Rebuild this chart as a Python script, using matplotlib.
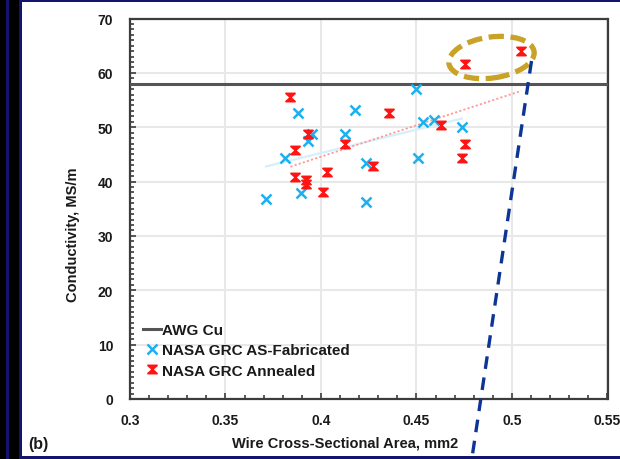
import numpy as np
import matplotlib
matplotlib.use("Agg")
import matplotlib.pyplot as plt
from matplotlib.path import Path
from matplotlib.patches import Ellipse, Rectangle
from matplotlib.lines import Line2D
from matplotlib.transforms import IdentityTransform
from matplotlib.ticker import MultipleLocator

plt.rcParams['font.family'] = ['Liberation Sans', 'DejaVu Sans']
plt.rcParams['font.weight'] = 'bold'

# ---------------- data ----------------
fab_area = [0.4497, 0.3879, 0.4180, 0.4532, 0.4591, 0.4737, 0.3955, 0.3932,
            0.4124, 0.3813, 0.4238, 0.4509, 0.3713, 0.3897, 0.4235]
fab_cond = [57.1, 52.6, 53.2, 51.0, 51.3, 50.1, 48.7, 47.5,
            48.7, 44.3, 43.4, 44.4, 36.8, 37.9, 36.2]

ann_area = [0.3840, 0.4355, 0.3932, 0.4626, 0.4754, 0.4737, 0.3866, 0.4124,
            0.4273, 0.4034, 0.3866, 0.3923, 0.3923, 0.4011, 0.4754, 0.5048]
ann_cond = [55.6, 52.7, 48.7, 50.4, 46.9, 44.4, 45.8, 46.9,
            42.9, 41.7, 40.75, 40.3, 39.5, 38.1, 61.6, 64.0]

awg_cu = 58.0

x_ticks = [0.3, 0.35, 0.4, 0.45, 0.5, 0.55]
x_tick_labels = ['0.3', '0.35', '0.4', '0.45', '0.5', '0.55']
y_ticks = [0, 10, 20, 30, 40, 50, 60, 70]

legend_labels = ['AWG Cu', 'NASA GRC AS-Fabricated', 'NASA GRC Annealed']

# ---------------- figure ----------------
W, H = 620, 460
fig = plt.figure(figsize=(W / 100, H / 100), dpi=100, facecolor='black')

def px_rect(x0, y0_top, x1, y1_top, color):
    r = Rectangle((x0, H - y1_top), x1 - x0, y1_top - y0_top,
                  transform=IdentityTransform(), color=color, zorder=-10, lw=0)
    fig.patches.append(r)

navy = '#14146e'
px_rect(6, 0, 8.5, 460, navy)
px_rect(19, 0, 620, 459.5, navy)
px_rect(22, 3, 620, 456.5, 'white')

ax = fig.add_axes([130 / W, (H - 400) / H, 477.5 / W, 380.5 / H])
ax.set_facecolor('none')

ax.set_xlim(0.3, 0.55)
ax.set_ylim(0, 70)
ax.set_xticks(x_ticks)
ax.set_xticklabels(x_tick_labels)
ax.set_yticks(y_ticks)
ax.xaxis.set_minor_locator(MultipleLocator(0.01))
ax.yaxis.set_minor_locator(MultipleLocator(1))

ax.grid(True, which='major', color='#e8e8e8', lw=1.5, zorder=0)
ax.set_axisbelow(True)

for s in ax.spines.values():
    s.set_color('#3c3c3c')
    s.set_linewidth(1.6)

ax.tick_params(axis='both', which='both', direction='in', colors='#3c3c3c',
               top=False, right=False)
ax.tick_params(axis='both', which='major', length=4, width=1.2,
               labelsize=10, labelcolor='#1a1a1a')
ax.tick_params(axis='both', which='minor', length=3, width=1.2)
ax.tick_params(axis='x', which='major', pad=10)
ax.tick_params(axis='y', which='major', pad=12)
for lab in ax.get_xticklabels() + ax.get_yticklabels():
    lab.set_fontweight('bold')

# trend lines (least squares, like Excel trendlines)
fa = np.array(fab_area); fc = np.array(fab_cond)
aa = np.array(ann_area); ac = np.array(ann_cond)
pf = np.polyfit(fa, fc, 1)
pa = np.polyfit(aa, ac, 1)
xf = np.array([fa.min(), fa.max()])
xa = np.array([aa.min(), aa.max()])
ax.plot(xf, np.polyval(pf, xf), color='#d3f0fc', lw=1.6, zorder=2)
ax.plot(xa, np.polyval(pa, xa), color='#ff9a9a', lw=1.3,
        linestyle=(0, (1.2, 1.2)), zorder=2)

# AWG Cu line
ax.axhline(awg_cu, color='#555555', lw=2.2, zorder=3)

# markers
hourglass = Path([(-1, 0.9), (1, 0.9), (0, 0), (1, -0.9), (-1, -0.9), (0, 0), (-1, 0.9)],
                 [Path.MOVETO, Path.LINETO, Path.LINETO, Path.LINETO,
                  Path.LINETO, Path.LINETO, Path.CLOSEPOLY])
blue = '#1cb0ef'
red = '#ff1414'
ax.plot(fab_area, fab_cond, linestyle='none', marker='x', color=blue,
        markersize=6.5, mew=1.8, zorder=4)
ax.plot(ann_area, ann_cond, linestyle='none', marker=hourglass, color=red,
        markersize=6.5, mew=1.3, markeredgecolor=red, zorder=5)

# labels
ax.set_xlabel('Wire Cross-Sectional Area, mm2', fontsize=10.5, fontweight='bold',
              color='#1a1a1a')
ax.xaxis.set_label_coords((345 - 130) / 477.5, (400 - 444) / 380.5)
ax.xaxis.label.set_va('center')
ax.set_ylabel('Conductivity, MS/m', fontsize=10.5, fontweight='bold', color='#1a1a1a')
ax.yaxis.set_label_coords((73 - 130) / 477.5, (400 - 235) / 380.5)
ax.yaxis.label.set_va('center')

fig.text(28 / W, (H - 445) / H, '(b)', fontsize=11.5, fontweight='bold',
         color='#1a1a1a', ha='left', va='center')

# legend
handles = [Line2D([], [], color='#555555', lw=2.2),
           Line2D([], [], linestyle='none', marker='x', color=blue, markersize=6.5, mew=1.8),
           Line2D([], [], linestyle='none', marker=hourglass, color=red, markersize=6.5,
                  mew=1.3)]
leg = ax.legend(handles, legend_labels, loc='upper left',
                bbox_to_anchor=((143 - 130) / 477.5, (400 - 324) / 380.5),
                frameon=False, borderpad=0, borderaxespad=0, handlelength=1.15,
                handletextpad=0.12, labelspacing=0.42,
                prop={'size': 11, 'weight': 'bold'})
for t in leg.get_texts():
    t.set_color('#1a1a1a')

# annotations (figure-pixel overlay)
ell = Ellipse((491.5, H - 58.5), 86, 41, angle=8, transform=IdentityTransform(),
              fill=False, edgecolor='#c9a227', lw=3.8, linestyle=(0, (2.9, 1.25)),
              zorder=20)
fig.patches.append(ell)
dl = Line2D([531.5, 471.5], [H - 62, -2], transform=IdentityTransform(),
            color='#0c3596', lw=2.4, linestyle=(0, (3.8, 2.6)), zorder=21)
fig.lines.append(dl)

fig.savefig('out.png', dpi=100, facecolor='black')
